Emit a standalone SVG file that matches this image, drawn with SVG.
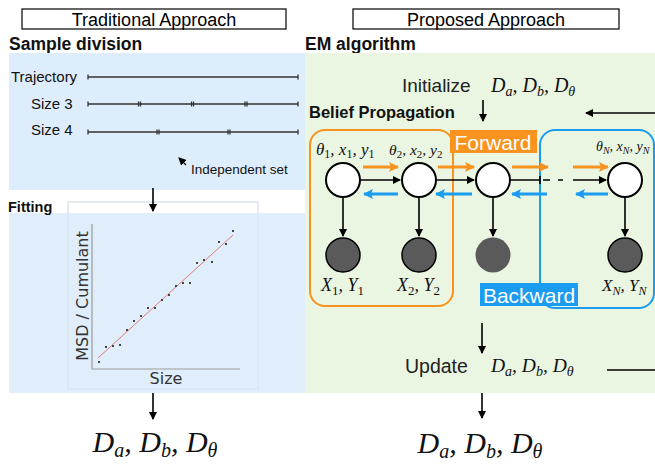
<svg xmlns="http://www.w3.org/2000/svg" width="655" height="468" viewBox="0 0 655 468">
<style>
.hdr{font-family:"Liberation Sans",Arial,sans-serif;font-size:18px;fill:#000;text-anchor:middle}
.sec{font-family:"Liberation Sans",Arial,sans-serif;font-weight:bold;font-size:17.5px;fill:#111}
.lbl{font-family:"Liberation Sans",Arial,sans-serif;font-size:15px;fill:#111}
.ax{font-family:"DejaVu Sans",sans-serif;font-size:16px;fill:#333}
.mth{font-family:"Liberation Serif","Times New Roman",serif;font-style:italic;fill:#111}
.up{font-style:normal}
.ln{stroke:#333;stroke-width:1.3;fill:none}
.blk{stroke:#000;stroke-width:1.6;fill:none}
.or{stroke:#f7931e;stroke-width:3;fill:none}
.bl{stroke:#1a9cf0;stroke-width:3;fill:none}
.wn{fill:#fff;stroke:#000;stroke-width:2}
.dn{fill:#5a5a5a;stroke:#000;stroke-width:1.5}
.pt{fill:#444}
.wt{font-family:"Liberation Sans",Arial,sans-serif;font-size:21px;fill:#fff;text-anchor:middle}
</style>
<defs>
<marker id="ah" markerWidth="8" markerHeight="8" refX="7" refY="4" orient="auto" markerUnits="userSpaceOnUse"><path d="M0,0 L8,4 L0,8 Z" fill="#000"/></marker>
<marker id="ao" markerWidth="10" markerHeight="10" refX="9" refY="5" orient="auto" markerUnits="userSpaceOnUse"><path d="M0,0 L10,5 L0,10 L2,5 Z" fill="#f7931e"/></marker>
<marker id="ab" markerWidth="10" markerHeight="10" refX="9" refY="5" orient="auto" markerUnits="userSpaceOnUse"><path d="M0,0 L10,5 L0,10 L2,5 Z" fill="#1a9cf0"/></marker>
</defs>
<rect width="655" height="468" fill="#fff"/>

<!-- Traditional approach -->
<g id="trad-title">
<rect x="22" y="9" width="264" height="20" fill="#fff" stroke="#000" stroke-width="1.2"/>
<text class="hdr" x="154" y="26">Traditional Approach</text>
</g>
<text class="sec" x="9" y="50">Sample division</text>
<g id="sample-panel">
<rect x="9" y="53" width="296" height="137" fill="#deedfb"/>
<text class="lbl" x="11" y="82">Trajectory</text>
<text class="lbl" x="31" y="109">Size 3</text>
<text class="lbl" x="31" y="135">Size 4</text>
<g class="ln">
<path d="M88,77 H298 M88,74.5 V79.5 M298,74.5 V79.5"/>
<path d="M88,104 H298 M88,101.5 V106.5 M298,101.5 V106.5 M138.5,101.5 V106.5 M140.5,101.5 V106.5 M191.5,101.5 V106.5 M193.5,101.5 V106.5 M245,101.5 V106.5 M247,101.5 V106.5"/>
<path d="M88,132 H298 M88,129.5 V134.5 M298,129.5 V134.5 M157,129.5 V134.5 M159,129.5 V134.5 M228,129.5 V134.5 M230,129.5 V134.5"/>
</g>
<path d="M186,165 L179,158" stroke="#000" stroke-width="1.3" marker-end="url(#ah)"/>
<text class="lbl" x="191" y="174" style="font-size:13.5px">Independent set</text>
</g>

<g id="fitting-panel">
<rect x="68" y="202" width="190" height="187" fill="#fff" stroke="#e4e4e4" stroke-width="1"/>
<rect x="9" y="213" width="296" height="180" fill="#deedfb" fill-opacity="0.95"/>
<rect x="68" y="202" width="190" height="187" fill="none" stroke="#d8e4ee" stroke-width="1"/>
<text class="sec" x="8" y="212" style="font-size:14.5px">Fitting</text>
<path d="M92,224 V369 H240" stroke="#999" stroke-width="1.2" fill="none"/>
<line x1="98" y1="358" x2="233" y2="235" stroke="#e07a7a" stroke-width="1"/>
<g class="pt">
<rect x="98" y="361" width="2" height="2"/><rect x="105" y="346" width="2" height="2"/><rect x="112" y="345" width="2" height="2"/><rect x="119" y="344" width="2" height="2"/><rect x="126" y="329" width="2" height="2"/><rect x="133" y="320" width="2" height="2"/><rect x="140" y="315" width="2" height="2"/><rect x="147" y="307" width="2" height="2"/><rect x="154" y="307" width="2" height="2"/><rect x="161" y="299" width="2" height="2"/><rect x="168" y="294" width="2" height="2"/><rect x="175" y="285" width="2" height="2"/><rect x="182" y="282" width="2" height="2"/><rect x="189" y="282" width="2" height="2"/><rect x="196" y="262" width="2" height="2"/><rect x="203" y="259" width="2" height="2"/><rect x="211" y="261" width="2" height="2"/><rect x="218" y="241" width="2" height="2"/><rect x="225" y="243" width="2" height="2"/><rect x="232" y="230" width="2" height="2"/>
</g>
<text class="ax" transform="translate(88,296) rotate(-90)" text-anchor="middle">MSD / Cumulant</text>
<text class="ax" x="166" y="384" text-anchor="middle">Size</text>
</g>

<g id="trad-result">
<text class="mth" x="155" y="452" text-anchor="middle" style="font-size:30px">D<tspan font-size="20" dy="5">a</tspan><tspan dy="-5">, D</tspan><tspan font-size="20" dy="5">b</tspan><tspan dy="-5">, D</tspan><tspan font-size="20" dy="5">θ</tspan></text>
</g>

<!-- Proposed approach -->
<g id="prop-title">
<rect x="353" y="9" width="266" height="20" fill="#fff" stroke="#000" stroke-width="1.2"/>
<text class="hdr" x="486" y="26">Proposed Approach</text>
</g>
<text class="sec" x="305" y="50">EM algorithm</text>
<rect x="305" y="53" width="350" height="340" fill="#eaf6e2"/>

<g id="initialize">
<text x="402" y="92" style="font-family:'Liberation Sans',Arial,sans-serif;font-size:19px;fill:#222">Initialize</text>
<text class="mth" x="491" y="92" style="font-size:20px">D<tspan font-size="14" dy="4">a</tspan><tspan dy="-4">, D</tspan><tspan font-size="14" dy="4">b</tspan><tspan dy="-4">, D</tspan><tspan font-size="14" dy="4">θ</tspan></text>
</g>
<text class="sec" x="309" y="118" style="font-size:16.5px">Belief Propagation</text>

<g id="forward-box">
<rect x="310" y="130" width="143" height="176" rx="15" fill="none" stroke="#f7931e" stroke-width="2"/>
</g>
<g id="backward-box">
<rect x="540" y="130" width="114" height="178" rx="15" fill="none" stroke="#1a9cf0" stroke-width="2"/>
</g>
<g id="forward-label">
<rect x="450" y="130" width="87" height="23" fill="#f7931e"/>
<text class="wt" x="493" y="149.5">Forward</text>
</g>
<g id="backward-label">
<rect x="480" y="283" width="98" height="23" fill="#1a9cf0"/>
<text class="wt" x="529" y="302.5">Backward</text>
</g>

<g id="connectors">
<line class="blk" x1="483" y1="100" x2="483" y2="121" marker-end="url(#ah)"/>
<line class="blk" x1="655" y1="113" x2="586" y2="113" marker-end="url(#ah)"/>
<line class="blk" x1="361" y1="180" x2="400" y2="180" marker-end="url(#ah)"/>
<line class="blk" x1="437" y1="180" x2="474" y2="180" marker-end="url(#ah)"/>
<path class="blk" d="M511,180 H540 M540,176 V184 M543,180 H550 M558,180 H563"/>
<line class="blk" x1="573" y1="180" x2="606" y2="180" marker-end="url(#ah)"/>
<line class="blk" x1="343" y1="198" x2="343" y2="236" marker-end="url(#ah)"/>
<line class="blk" x1="419" y1="198" x2="419" y2="236" marker-end="url(#ah)"/>
<line class="blk" x1="493" y1="198" x2="493" y2="236" marker-end="url(#ah)"/>
<line class="blk" x1="625" y1="198" x2="625" y2="236" marker-end="url(#ah)"/>
<line class="or" x1="363" y1="167" x2="398" y2="167" marker-end="url(#ao)"/>
<line class="or" x1="438" y1="167" x2="474" y2="167" marker-end="url(#ao)"/>
<line class="or" x1="512" y1="167" x2="548" y2="167" marker-end="url(#ao)"/>
<line class="or" x1="573" y1="167" x2="608" y2="167" marker-end="url(#ao)"/>
<line class="bl" x1="398" y1="194" x2="364" y2="194" marker-end="url(#ab)"/>
<line class="bl" x1="472" y1="194" x2="436" y2="194" marker-end="url(#ab)"/>
<line class="bl" x1="547" y1="194" x2="512" y2="194" marker-end="url(#ab)"/>
<line class="bl" x1="608" y1="194" x2="576" y2="194" marker-end="url(#ab)"/>
<line class="blk" x1="482" y1="323" x2="482" y2="353" marker-end="url(#ah)"/>
<line class="blk" x1="607" y1="370" x2="655" y2="370"/>
<line class="blk" x1="482" y1="393" x2="482" y2="418" marker-end="url(#ah)"/>
<line class="blk" x1="153" y1="188" x2="153" y2="211" marker-end="url(#ah)"/>
<line class="blk" x1="153" y1="393" x2="153" y2="419" marker-end="url(#ah)"/>
</g>

<g id="node-1"><circle class="wn" cx="343" cy="180" r="17"/>
<text class="mth" x="316" y="155" style="font-size:17px">θ<tspan class="up" font-size="12" dy="3">1</tspan><tspan dy="-3">, x</tspan><tspan class="up" font-size="12" dy="3">1</tspan><tspan dy="-3">, y</tspan><tspan class="up" font-size="12" dy="3">1</tspan></text></g>
<g id="node-2"><circle class="wn" cx="419" cy="180" r="17"/>
<text class="mth" x="389" y="155" style="font-size:15.5px">θ<tspan class="up" font-size="11" dy="3">2</tspan><tspan dy="-3">, x</tspan><tspan class="up" font-size="11" dy="3">2</tspan><tspan dy="-3">, y</tspan><tspan class="up" font-size="11" dy="3">2</tspan></text></g>
<g id="node-3"><circle class="wn" cx="493" cy="180" r="17"/></g>
<g id="node-N"><circle class="wn" cx="625" cy="180" r="17"/>
<text class="mth" x="596" y="151" style="font-size:14px">θ<tspan font-size="10" dy="3">N</tspan><tspan dy="-3">, x</tspan><tspan font-size="10" dy="3">N</tspan><tspan dy="-3">, y</tspan><tspan font-size="10" dy="3">N</tspan></text></g>
<g id="obs-1"><circle class="dn" cx="343" cy="255" r="17"/>
<text class="mth" x="321" y="291" style="font-size:18px">X<tspan class="up" font-size="13" dy="4">1</tspan><tspan dy="-4">, Y</tspan><tspan class="up" font-size="13" dy="4">1</tspan></text></g>
<g id="obs-2"><circle class="dn" cx="419" cy="255" r="17"/>
<text class="mth" x="397" y="291" style="font-size:18px">X<tspan class="up" font-size="13" dy="4">2</tspan><tspan dy="-4">, Y</tspan><tspan class="up" font-size="13" dy="4">2</tspan></text></g>
<g id="obs-3"><circle cx="493" cy="255" r="17.5" fill="#5a5a5a"/></g>
<g id="obs-N"><circle class="dn" cx="625" cy="255" r="17"/>
<text class="mth" x="602" y="291" style="font-size:17px">X<tspan font-size="12" dy="4">N</tspan><tspan dy="-4">, Y</tspan><tspan font-size="12" dy="4">N</tspan></text></g>

<g id="update">
<text x="405" y="373" style="font-family:'Liberation Sans',Arial,sans-serif;font-size:19.5px;fill:#222">Update</text>
<text class="mth" x="491" y="372" style="font-size:19.5px">D<tspan font-size="14" dy="4">a</tspan><tspan dy="-4">, D</tspan><tspan font-size="14" dy="4">b</tspan><tspan dy="-4">, D</tspan><tspan font-size="14" dy="4">θ</tspan></text>
</g>
<g id="prop-result">
<text class="mth" x="480" y="453" text-anchor="middle" style="font-size:30px">D<tspan font-size="20" dy="5">a</tspan><tspan dy="-5">, D</tspan><tspan font-size="20" dy="5">b</tspan><tspan dy="-5">, D</tspan><tspan font-size="20" dy="5">θ</tspan></text>
</g>
</svg>
